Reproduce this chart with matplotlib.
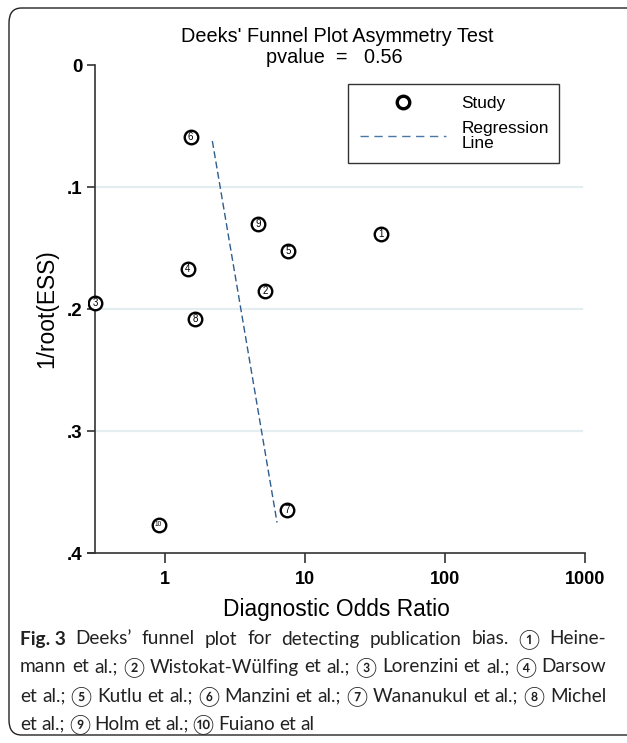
import matplotlib.pyplot as plt
from matplotlib.patches import FancyBboxPatch
from matplotlib.lines import Line2D

# study data
study_ids = ['1', '2', '3', '4', '5', '6', '7', '8', '9', '10']
dor = [35.2, 5.2, 0.319, 1.46, 7.57, 1.53, 7.45, 1.66, 4.64, 0.906]
inv_root_ess = [0.1385, 0.185, 0.195, 0.167, 0.1525, 0.059, 0.365, 0.208, 0.130, 0.377]

# regression line end points
reg_x = [2.19, 6.34]
reg_y = [0.0623, 0.375]

y_ticks = [0, 0.1, 0.2, 0.3, 0.4]
y_labels = ['0', '.1', '.2', '.3', '.4']
x_ticks = [1, 10, 100, 1000]
x_labels = ['1', '10', '100', '1000']

caption = [
    "Deeks\u2019 funnel plot for detecting publication bias. \u2460 Heine-",
    "mann et al.; \u2461 Wistokat-W\u00fclfing et al.; \u2462 Lorenzini et al.; \u2463 Darsow",
    "et al.; \u2464 Kutlu et al.; \u2465 Manzini et al.; \u2466 Wananukul et al.; \u2467 Michel",
    "et al.; \u2468 Holm et al.; \u2469 Fuiano et al",
]

plt.rcParams['font.family'] = ['Liberation Sans', 'DejaVu Sans']

fig = plt.figure(figsize=(6.27, 7.43), dpi=100)

# outer rounded frame
frame = FancyBboxPatch((9 / 627, 8 / 743), 640 / 627, 727 / 743,
                       boxstyle='round,pad=0,rounding_size=0.02',
                       transform=fig.transFigure, fill=False,
                       edgecolor='#222222', lw=1.0)
fig.patches.append(frame)

ax = fig.add_axes([0.1404, 0.2557, 0.7927, 0.6568])
ax.set_xscale('log')
ax.set_xlim(0.284, 1000)
ax.set_ylim(0.4, 0)

# grid lines
for gy in [0.1, 0.2, 0.3]:
    ax.plot([0.319, 950], [gy, gy], color='#e4edf0', lw=1.6, zorder=0)

ax.plot(reg_x, reg_y, color='#2f5d8e', lw=1.0, ls=(0, (5, 2.5)), zorder=2)
ax.scatter(dor, inv_root_ess, s=95, facecolor='white', edgecolor='black',
           lw=1.7, zorder=3)
for sid, xx, yy in zip(study_ids, dor, inv_root_ess):
    ax.text(xx, yy, sid, fontsize=7 if len(sid) == 1 else 4.8,
            ha='center', va='center', zorder=4)

ax.spines['top'].set_visible(False)
ax.spines['right'].set_visible(False)
ax.spines['left'].set_position(('data', 0.319))
ax.spines['left'].set_bounds(0, 0.4)
for s in ['left', 'bottom']:
    ax.spines[s].set_color('#333333')
    ax.spines[s].set_linewidth(1.2)

ax.set_yticks(y_ticks)
ax.set_yticklabels(y_labels, fontsize=13.5, fontweight='bold')
ax.set_xticks(x_ticks)
ax.set_xticklabels(x_labels, fontsize=13, fontweight='bold')
ax.minorticks_off()
ax.tick_params(axis='y', length=6, width=1.2, color='#333333', pad=3)
ax.tick_params(axis='x', length=7, width=1.2, color='#333333', pad=6)

ax.set_ylabel('1/root(ESS)', fontsize=16.4, labelpad=6)
ax.set_xlabel('Diagnostic Odds Ratio', fontsize=16.4, labelpad=7)

handles = [
    Line2D([], [], marker='o', ls='none', mfc='white', mec='black', mew=2.4,
           ms=9, label='Study'),
    Line2D([], [], color='#4a78a6', lw=1.0, ls=(0, (6, 4)),
           label='Regression\nLine'),
]
leg = ax.legend(handles=handles, loc='upper left',
                bbox_to_anchor=(0.523, 0.961, 0.425, 0.0), mode='expand',
                borderaxespad=0,
                fontsize=12.4, frameon=True, fancybox=False, edgecolor='black',
                handlelength=5.0, handletextpad=0.9, labelspacing=0.6,
                borderpad=0.7)
leg.get_frame().set_linewidth(1.0)
for t in leg.get_texts():
    t.set_linespacing(0.95)

fig.text(337 / 627, 1 - 42 / 743, "Deeks' Funnel Plot Asymmetry Test",
         ha='center', va='baseline', fontsize=14.3)
fig.text(334 / 627, 1 - 63 / 743, "pvalue  =   0.56",
         ha='center', va='baseline', fontsize=14.3)

# caption, justified between x0 and x1 like the journal layout
cap_font = ['Lato', 'DejaVu Sans']
cap_size = 13.7
line_y = [639, 667, 696, 724]
x0, x1 = 20, 606
renderer = fig.canvas.get_renderer()


def place_line(words, ly, justify):
    arts = []
    for w, wt in words:
        t = fig.text(0, 1 - ly / 743, w, fontsize=cap_size, family=cap_font,
                     fontweight=wt, va='center', color='#222222')
        arts.append(t)
    widths = [a.get_window_extent(renderer).width for a in arts]
    if justify and len(arts) > 1:
        gap = (x1 - x0 - sum(widths)) / (len(arts) - 1)
    else:
        gap = 4.3
    xx = x0
    for a, wd in zip(arts, widths):
        a.set_x(xx / 627)
        xx += wd + gap


for i, (txt, ly) in enumerate(zip(caption, line_y)):
    words = [(w, 'normal') for w in txt.split(' ')]
    if i == 0:
        words = [('Fig. 3', 'bold')] + words
    place_line(words, ly, justify=i < len(caption) - 1)

fig.savefig('out.png', dpi=100)
